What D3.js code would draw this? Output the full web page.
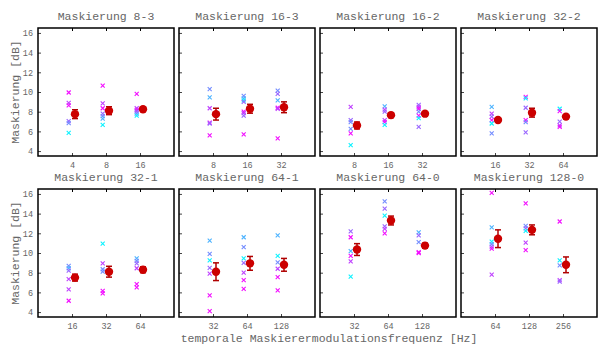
<!DOCTYPE html>
<html>
<head>
<meta charset="utf-8">
<script src="https://cdn.jsdelivr.net/npm/d3@7"></script>
<style>body{margin:0;background:#fff}</style>
</head>
<body>
<div id="chart"></div>
<script>
// Data
const titles = ["Maskierung 8-3", "Maskierung 16-3", "Maskierung 16-2", "Maskierung 32-2",
                "Maskierung 32-1", "Maskierung 64-1", "Maskierung 64-0", "Maskierung 128-0"];
const freqLabels = [["4","8","16"], ["8","16","32"], ["8","16","32"], ["16","32","64"],
                    ["16","32","64"], ["32","64","128"], ["32","64","128"], ["64","128","256"]];
const means = [[7.75, 8.1, 8.25], [7.75, 8.3, 8.45], [6.6, 7.65, 7.8], [7.15, 7.9, 7.5],
               [7.5, 8.1, 8.3], [8.1, 8.95, 8.8], [10.35, 13.3, 10.75], [11.45, 12.35, 8.8]];
const errs = [[.45, .4, .2], [.6, .45, .55], [.35, .25, .2], [.2, .45, .2],
              [.35, .55, .3], [.9, .7, .65], [.6, .45, .25], [.9, .5, .8]];
// single listeners: [value, colour key]
const subjects = [
  [[[9.95,"m"],[8.9,"v"],[8.65,"m"],[7.05,"p"],[6.85,"b"],[5.85,"c"]],
   [[10.65,"m"],[8.85,"v"],[8.35,"m"],[7.8,"p"],[7.55,"b"],[7.3,"l"],[6.65,"c"]],
   [[9.8,"m"],[8.35,"v"],[8.15,"m"],[8.0,"p"],[7.8,"b"],[7.6,"c"]]],
  [[[10.3,"b"],[9.45,"l"],[8.35,"v"],[6.9,"m"],[6.8,"p"],[5.6,"m"]],
   [[9.6,"b"],[9.35,"l"],[9.15,"c"],[9.0,"p"],[8.0,"m"],[7.85,"v"],[7.6,"p"],[5.7,"m"]],
   [[10.15,"b"],[9.8,"p"],[9.15,"l"],[8.4,"m"],[8.3,"v"],[5.3,"m"]]],
  [[[8.5,"v"],[7.15,"p"],[6.95,"b"],[6.25,"b"],[5.8,"m"],[4.6,"c"]],
   [[8.55,"l"],[8.2,"v"],[8.0,"p"],[7.15,"v"],[6.95,"m"],[6.65,"c"]],
   [[8.7,"p"],[8.5,"v"],[8.3,"m"],[8.0,"b"],[7.6,"m"],[7.35,"c"],[6.45,"p"]]],
  [[[8.5,"l"],[7.8,"v"],[7.5,"p"],[7.15,"m"],[6.8,"c"],[5.8,"b"]],
   [[9.5,"m"],[9.35,"c"],[8.4,"p"],[7.15,"m"],[6.95,"b"],[5.9,"p"]],
   [[8.3,"c"],[8.05,"m"],[7.0,"p"],[6.6,"v"],[6.45,"m"]]],
  [[[8.7,"b"],[8.45,"l"],[8.2,"p"],[7.35,"v"],[6.3,"v"],[5.15,"m"]],
   [[10.95,"c"],[8.95,"v"],[8.35,"b"],[8.1,"b"],[6.15,"m"],[5.9,"m"]],
   [[9.45,"l"],[9.2,"b"],[8.95,"p"],[8.45,"v"],[6.85,"m"],[6.5,"m"]]],
  [[[11.25,"l"],[9.9,"b"],[9.25,"c"],[8.5,"p"],[7.9,"v"],[5.7,"m"],[4.1,"m"]],
   [[11.6,"l"],[10.6,"b"],[9.45,"c"],[9.0,"p"],[8.0,"v"],[7.25,"m"],[6.35,"m"]],
   [[11.8,"l"],[9.7,"c"],[9.05,"b"],[8.4,"v"],[7.55,"m"],[6.2,"m"]]],
  [[[12.2,"p"],[11.6,"m"],[10.2,"l"],[9.7,"m"],[9.15,"v"],[7.6,"c"]],
   [[15.25,"b"],[14.5,"p"],[13.8,"c"],[12.7,"p"],[12.45,"v"],[12.0,"m"]],
   [[12.1,"l"],[11.8,"p"],[11.1,"b"],[10.1,"m"],[10.0,"m"]]],
  [[[16.1,"m"],[12.6,"l"],[11.15,"c"],[10.9,"b"],[10.65,"p"],[10.45,"m"],[7.8,"v"]],
   [[15.05,"m"],[12.75,"b"],[12.5,"p"],[12.25,"c"],[11.05,"v"],[10.3,"m"]],
   [[13.2,"m"],[9.25,"c"],[8.75,"b"],[7.25,"v"],[7.1,"p"]]]
];
const yTicks = [4, 6, 8, 10, 12, 14, 16];

// position on the cyan -> magenta ("cool") colour map
const coolPos = {c: 0.05, l: 0.3, b: 0.45, p: 0.6, v: 0.75, m: 0.95};
const cool = t => d3.rgb(255 * t, 255 * (1 - t), 255).toString();

const W = 598, H = 344;
const lefts = [38, 179, 320, 461], tops = [28, 189];
const pw = 136, ph = 128;
const font = "'Liberation Mono', 'DejaVu Sans Mono', monospace";

const svg = d3.select("#chart").append("svg")
    .attr("width", W).attr("height", H)
    .style("font-family", font);

const x = d3.scaleLinear().domain([0, 4]).range([0, pw]);
const y = d3.scaleLinear().domain([3.5, 16.5]).range([ph, 0]);

titles.forEach((title, p) => {
    const col = p % 4, row = Math.floor(p / 4);
    const g = svg.append("g").attr("transform", `translate(${lefts[col]},${tops[row]})`);

    // axes with inner ticks
    const xAxis = d3.axisBottom(x).tickValues([1, 2, 3])
        .tickFormat((d, i) => freqLabels[p][i]).tickSizeInner(-3).tickSizeOuter(0).tickPadding(6);
    const gx = g.append("g").attr("transform", `translate(0,${ph})`).call(xAxis);
    g.append("g").call(d3.axisTop(x).tickValues([1, 2, 3]).tickFormat("").tickSizeInner(-3).tickSizeOuter(0));
    const yAxis = d3.axisLeft(y).tickValues(yTicks).tickSizeInner(-3).tickSizeOuter(0).tickPadding(5);
    const gy = g.append("g").call(yAxis);
    if (col > 0) gy.selectAll("text").remove();
    [gx, gy].forEach(a => {
        a.selectAll("line").attr("stroke", "#444");
        a.selectAll("text").attr("fill", "#666").style("font-size", "8.5px").style("font-family", font);
    });
    g.selectAll(".domain").remove();

    // individual listeners
    subjects[p].forEach((pts, i) => {
        const cx = x(i + 1) - 3.3;
        pts.forEach(([v, k]) => {
            const cy = y(v), s = 2;
            g.append("path")
                .attr("d", `M${cx - s},${cy - s}L${cx + s},${cy + s}M${cx - s},${cy + s}L${cx + s},${cy - s}`)
                .attr("stroke", cool(coolPos[k])).attr("stroke-width", 1.1).attr("fill", "none");
        });
    });

    // mean and error bars
    means[p].forEach((m, i) => {
        const cx = x(i + 1) + 3, e = errs[p][i];
        g.append("line").attr("x1", cx).attr("x2", cx).attr("y1", y(m - e)).attr("y2", y(m + e))
            .attr("stroke", "#b00000").attr("stroke-width", 1.5);
        [m - e, m + e].forEach(v => g.append("line")
            .attr("x1", cx - 3).attr("x2", cx + 3).attr("y1", y(v)).attr("y2", y(v))
            .attr("stroke", "#b00000").attr("stroke-width", 1.5));
        g.append("circle").attr("cx", cx).attr("cy", y(m)).attr("r", 4.2).attr("fill", "#cc0000");
    });

    // frame
    g.append("rect").attr("width", pw).attr("height", ph)
        .attr("fill", "none").attr("stroke", "#000").attr("stroke-width", 1.5);

    // title
    g.append("text").attr("x", pw / 2).attr("y", -8).attr("text-anchor", "middle")
        .attr("fill", "#666").style("font-size", "11.5px").text(title);

    if (col === 0) {
        g.append("text").attr("transform", `translate(-19,${ph / 2}) rotate(-90)`)
            .attr("text-anchor", "middle").attr("fill", "#666").style("font-size", "11.5px")
            .text("Maskierung [dB]");
    }
});

svg.append("text").attr("x", 329).attr("y", 342).attr("text-anchor", "middle")
    .attr("fill", "#666").style("font-size", "11.5px")
    .text("temporale Maskierermodulationsfrequenz [Hz]");
</script>
</body>
</html>
